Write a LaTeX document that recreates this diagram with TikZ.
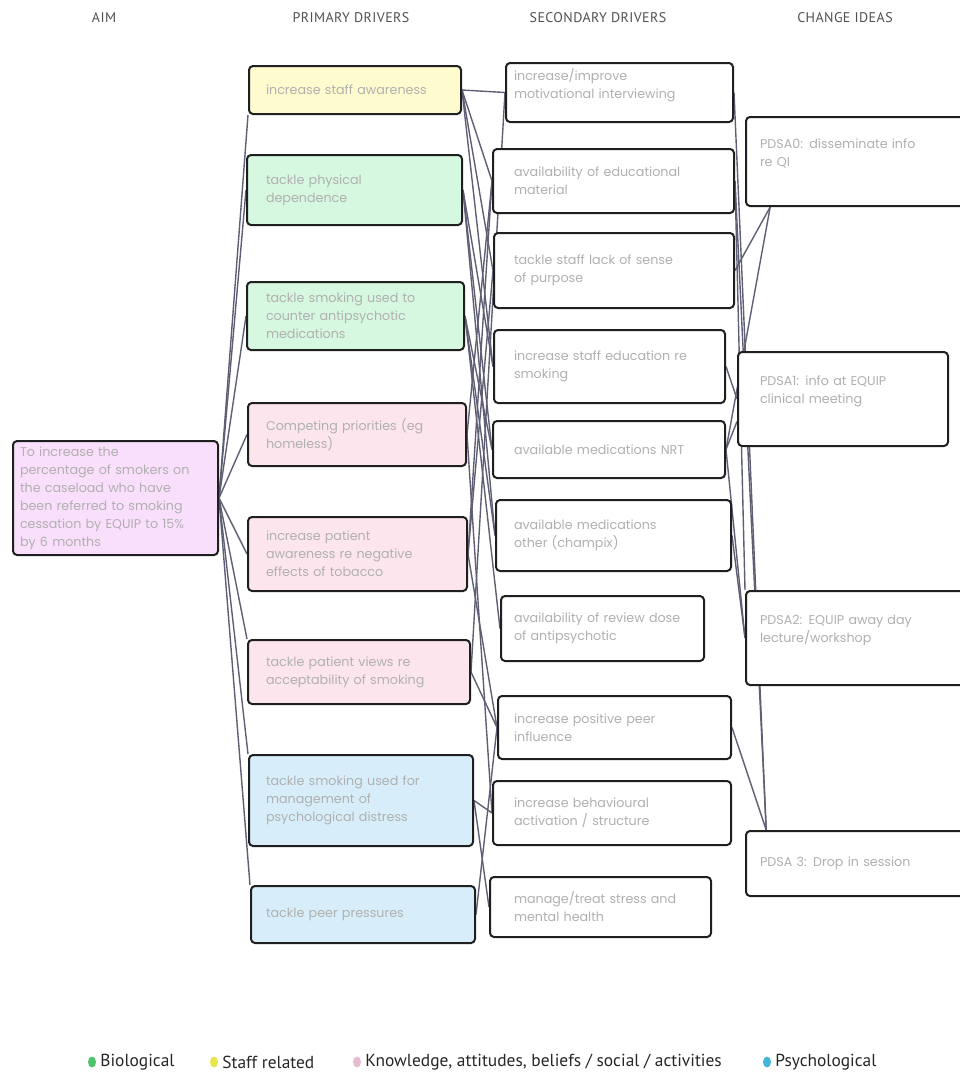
\documentclass[tikz,border=0pt]{standalone}
\usepackage{fontspec}
\setmainfont{Poppins}
\newfontfamily\legfont{PT Sans}
\usetikzlibrary{positioning,backgrounds,shapes.geometric}
\definecolor{boxtext}{HTML}{B0B0B0}
\definecolor{headgray}{HTML}{505050}
\definecolor{linkgray}{HTML}{5E5E74}
\definecolor{aimfill}{HTML}{F9DFFB}
\definecolor{stafffill}{HTML}{FEFBCF}
\definecolor{biofill}{HTML}{D6F7E0}
\definecolor{knowfill}{HTML}{FDE5EE}
\definecolor{psyfill}{HTML}{D7EEFA}
\definecolor{biodot}{HTML}{4CC26A}
\definecolor{staffdot}{HTML}{E6E64C}
\definecolor{knowdot}{HTML}{E6BCD2}
\definecolor{psydot}{HTML}{44B6D6}

\begin{document}
\begin{tikzpicture}[line cap=round,line join=round,x=1pt,y=-1pt,
  box/.style={draw=black!88,line width=2pt,rounded corners=4pt,anchor=north west,align=left,
    text=boxtext,font=\fontsize{12.7}{18}\selectfont,inner ysep=0pt},
  head/.style={text=headgray,font=\legfont\fontsize{14}{16}\selectfont\addfontfeatures{LetterSpace=3}},
  link/.style={draw=linkgray,line width=1.4pt},
  dot/.style={ellipse,inner sep=0pt,minimum width=8pt,minimum height=11pt},
  legtext/.style={font=\legfont\fontsize{17.4}{19}\selectfont,text=black!85,inner sep=0pt}]
\useasboundingbox (0,0) rectangle (960,1074);

% column titles
\node[head] (haim) at (104,18) {AIM};
\node[head] (hpri) at (351,18) {PRIMARY DRIVERS};
\node[head] (hsec) at (598,18) {SECONDARY DRIVERS};
\node[head] (hchg) at (845,18) {CHANGE IDEAS};

% aim
\node[box,fill=aimfill,minimum width=205pt,minimum height=114pt,inner xsep=7pt,text width=191pt] (aim) at (12,440)
  {To increase the\\percentage of smokers on\\the caseload who have\\been referred to smoking\\cessation by EQUIP to 15\%\\by 6 months};

% primary drivers
\node[box,fill=stafffill,minimum width=212pt,minimum height=48pt,inner xsep=17pt,text width=178pt] (p1) at (248,65) {increase staff awareness};
\node[box,fill=biofill,minimum width=215pt,minimum height=70pt,inner xsep=19pt,text width=177pt] (p2) at (246,154) {tackle physical\\dependence};
\node[box,fill=biofill,minimum width=217pt,minimum height=68pt,inner xsep=19pt,text width=179pt] (p3) at (246,281) {tackle smoking used to\\counter antipsychotic\\medications};
\node[box,fill=knowfill,minimum width=218pt,minimum height=63pt,inner xsep=18pt,text width=182pt] (p4) at (247,402) {Competing priorities (eg\\homeless)};
\node[box,fill=knowfill,minimum width=219pt,minimum height=74pt,inner xsep=18pt,text width=183pt] (p5) at (247,516) {increase patient\\awareness re negative\\effects of tobacco};
\node[box,fill=knowfill,minimum width=222pt,minimum height=64pt,inner xsep=18pt,text width=186pt] (p6) at (247,639) {tackle patient views re\\acceptability of smoking};
\node[box,fill=psyfill,minimum width=224pt,minimum height=91pt,inner xsep=17pt,text width=190pt] (p7) at (248,754) {tackle smoking used for\\management of\\psychological distress};
\node[box,fill=psyfill,minimum width=224pt,minimum height=57pt,inner xsep=15pt,text width=194pt] (p8) at (250,885) {tackle peer pressures};

% secondary drivers
\node[box,fill=white,minimum width=227pt,minimum height=59pt,inner xsep=8pt,text width=211pt] (s1) at (505,62) {increase/improve\\motivational interviewing\\ \mbox{}};
\node[box,fill=white,minimum width=241pt,minimum height=64pt,inner xsep=21pt,text width=199pt] (s2) at (492,148) {availability of educational\\material};
\node[box,fill=white,minimum width=240pt,minimum height=75pt,inner xsep=20pt,text width=200pt] (s3) at (493,232) {tackle staff lack of sense\\of purpose};
\node[box,fill=white,minimum width=231pt,minimum height=73pt,inner xsep=20pt,text width=191pt] (s4) at (493,329) {increase staff education re\\smoking};
\node[box,fill=white,minimum width=232pt,minimum height=57pt,inner xsep=21pt,text width=190pt] (s5) at (492,420) {available medications NRT};
\node[box,fill=white,minimum width=235pt,minimum height=71pt,inner xsep=18pt,text width=199pt] (s6) at (495,499) {available medications\\other (champix)};
\node[box,fill=white,minimum width=203pt,minimum height=65pt,inner xsep=13pt,text width=177pt] (s7) at (500,595) {availability of review dose\\of antipsychotic};
\node[box,fill=white,minimum width=233pt,minimum height=63pt,inner xsep=16pt,text width=201pt] (s8) at (497,695) {increase positive peer\\influence};
\node[box,fill=white,minimum width=238pt,minimum height=64pt,inner xsep=21pt,text width=196pt] (s9) at (492,780) {increase behavioural\\activation / structure};
\node[box,fill=white,minimum width=221pt,minimum height=60pt,inner xsep=24pt,text width=173pt] (s10) at (489,876) {manage/treat stress and\\mental health};

% change ideas
\node[box,fill=white,minimum width=235pt,minimum height=89pt,inner xsep=14pt,text width=207pt] (c1) at (745,116) {PDSA0: disseminate info\\re QI\\ \mbox{}};
\node[box,fill=white,minimum width=210pt,minimum height=94pt,inner xsep=22pt,text width=166pt] (c2) at (737,351) {PDSA1: info at EQUIP\\clinical meeting\\ \mbox{}};
\node[box,fill=white,minimum width=235pt,minimum height=94pt,inner xsep=14pt,text width=207pt] (c3) at (745,590) {PDSA2: EQUIP away day\\lecture/workshop\\ \mbox{}};
\node[box,fill=white,minimum width=235pt,minimum height=65pt,inner xsep=14pt,text width=207pt] (c4) at (745,830) {PDSA 3: Drop in session};

% links
\begin{scope}[on background layer]
\draw[link] (aim.east) -- (p1.south west);
\draw[link] (aim.east) -- (p2.west);
\draw[link] (aim.east) -- (p3.west);
\draw[link] (aim.east) -- (p4.west);
\draw[link] (aim.east) -- (p5.west);
\draw[link] (aim.east) -- (p6.north west);
\draw[link] (aim.east) -- (p7.north west);
\draw[link] (aim.east) -- (p8.north west);
\draw[link] (p1.east) -- (s1.west);
\draw[link] (p1.east) -- (s2.west);
\draw[link] (p1.east) -- (s3.west);
\draw[link] (p1.east) -- (s4.west);
\draw[link] (p2.east) -- (s4.west);
\draw[link] (p2.east) -- (s5.west);
\draw[link] (p2.east) -- (s6.west);
\draw[link] (p3.east) -- (s5.west);
\draw[link] (p3.east) -- (s6.west);
\draw[link] (p3.east) -- (s7.west);
\draw[link] (p4.east) -- (s2.west);
\draw[link] (p4.east) -- (s9.west);
\draw[link] (p5.east) -- (s2.west);
\draw[link] (p5.east) -- (s3.west);
\draw[link] (p5.east) -- (s8.west);
\draw[link] (p6.east) -- (s1.west);
\draw[link] (p6.east) -- (s8.west);
\draw[link] (p7.east) -- (s9.west);
\draw[link] (p7.east) -- (s10.west);
\draw[link] (p8.east) -- (s8.west);
\draw[link] (s1.east) -- (c4.161);
\draw[link] (s2.east) -- (c4.161);
\draw[link] (s2.east) -- (c3.north west);
\draw[link] (s3.east) -- (c1.206);
\draw[link] (s5.east) -- (c1.206);
\draw[link] (s4.east) -- (c2.west);
\draw[link] (s5.east) -- (c2.192);
\draw[link] (s5.east) -- (c3.west);
\draw[link] (s6.east) -- (c3.west);
\draw[link] (s8.east) -- (c4.161);
\end{scope}

% legend
\node[dot,fill=biodot] (d1) at (92,1062) {};
\node[legtext,right=4pt of d1] (l1) {Biological};
\node[dot,fill=staffdot] (d2) at (214,1062) {};
\node[legtext,right=4pt of d2] (l2) {Staff related};
\node[dot,fill=knowdot] (d3) at (357,1062) {};
\node[legtext,right=4pt of d3] (l3) {Knowledge, attitudes, beliefs / social / activities};
\node[dot,fill=psydot] (d4) at (767,1062) {};
\node[legtext,right=4pt of d4] (l4) {Psychological};
\end{tikzpicture}
\end{document}
